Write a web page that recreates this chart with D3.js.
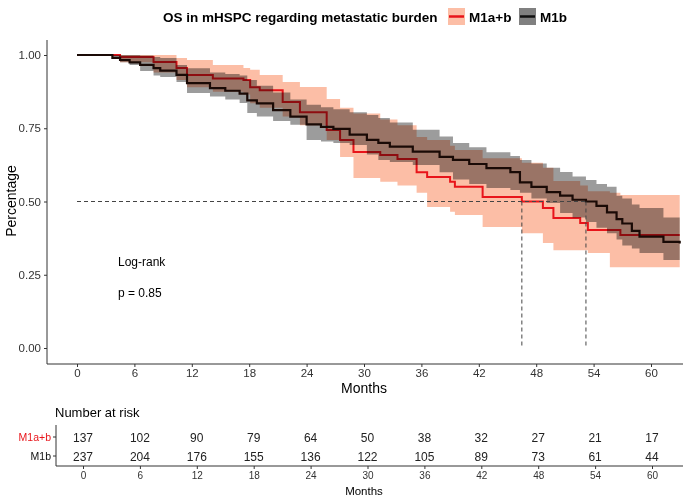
<!DOCTYPE html>
<html>
<head>
<meta charset="utf-8">
<script src="https://cdn.jsdelivr.net/npm/d3@7"></script>
<style>
  body { margin: 0; background: #fff; }
  svg { font-family: "Liberation Sans", Arial, sans-serif; }
  .tick text { fill: #333; }
</style>
</head>
<body>
<div id="chart"></div>
<script>
// Kaplan-Meier estimates (months, survival, 95% CI)
const m1bTime  = [0, 3.7, 4.5, 5.5, 6.6, 8.0, 8.7, 10.4, 11.5, 13.9, 15.5, 17.0, 17.8, 18.8, 20.5, 22.3, 24.0, 25.5, 26.8, 28.5, 30.3, 31.5, 32.7, 35.1, 37.9, 39.3, 41.0, 42.8, 45.3, 46.3, 47.5, 49.1, 50.5, 51.8, 53.2, 54.3, 55.4, 56.4, 57.0, 58.0, 58.8, 61.3, 63.0];
const m1bSurv  = [1, 0.99, 0.983, 0.975, 0.966, 0.955, 0.947, 0.932, 0.904, 0.887, 0.878, 0.868, 0.845, 0.835, 0.812, 0.79, 0.763, 0.755, 0.748, 0.728, 0.71, 0.70, 0.687, 0.67, 0.652, 0.642, 0.628, 0.614, 0.60, 0.565, 0.55, 0.532, 0.52, 0.506, 0.50, 0.485, 0.463, 0.44, 0.425, 0.40, 0.38, 0.362, 0.357];
const m1bUpper = [1, 1, 1, 1, 0.998, 0.993, 0.99, 0.966, 0.955, 0.94, 0.935, 0.93, 0.915, 0.895, 0.872, 0.848, 0.83, 0.822, 0.815, 0.805, 0.795, 0.785, 0.77, 0.745, 0.722, 0.70, 0.685, 0.668, 0.655, 0.642, 0.63, 0.615, 0.601, 0.585, 0.573, 0.56, 0.55, 0.52, 0.51, 0.49, 0.478, 0.445, 0.444];
const m1bLower = [1, 0.99, 0.975, 0.966, 0.945, 0.93, 0.925, 0.908, 0.87, 0.858, 0.848, 0.836, 0.802, 0.79, 0.775, 0.762, 0.71, 0.705, 0.70, 0.693, 0.66, 0.642, 0.635, 0.625, 0.60, 0.575, 0.56, 0.546, 0.539, 0.53, 0.51, 0.495, 0.461, 0.445, 0.43, 0.41, 0.392, 0.37, 0.35, 0.34, 0.324, 0.30, 0.29];

const m1abTime  = [0, 4.5, 8.0, 10.4, 11.5, 14.2, 17.4, 18.1, 19.1, 21.5, 23.3, 26.1, 27.5, 28.9, 31.7, 33.5, 35.5, 36.6, 39.0, 39.5, 42.4, 46.5, 48.7, 49.8, 52.6, 53.4, 55.7, 56.8, 63.0];
const m1abSurv  = [1, 0.993, 0.976, 0.956, 0.932, 0.92, 0.915, 0.89, 0.88, 0.84, 0.805, 0.744, 0.71, 0.669, 0.659, 0.645, 0.60, 0.584, 0.567, 0.55, 0.515, 0.50, 0.478, 0.444, 0.427, 0.403, 0.403, 0.386, 0.386];
const m1abUpper = [1, 1, 1, 0.99, 0.983, 0.966, 0.956, 0.95, 0.932, 0.908, 0.891, 0.85, 0.82, 0.80, 0.78, 0.76, 0.72, 0.71, 0.69, 0.676, 0.648, 0.632, 0.615, 0.57, 0.555, 0.535, 0.53, 0.522, 0.522];
const m1abLower = [1, 0.975, 0.94, 0.915, 0.89, 0.875, 0.865, 0.835, 0.82, 0.79, 0.76, 0.71, 0.652, 0.58, 0.567, 0.555, 0.53, 0.481, 0.465, 0.454, 0.413, 0.392, 0.358, 0.334, 0.334, 0.324, 0.276, 0.276, 0.276];

const medianM1ab = 46.5;
const medianM1b = 53.2;

// number at risk table
const riskTimes = [0, 6, 12, 18, 24, 30, 36, 42, 48, 54, 60];
const riskM1ab = [137, 102, 90, 79, 64, 50, 38, 32, 27, 21, 17];
const riskM1b  = [237, 204, 176, 155, 136, 122, 105, 89, 73, 61, 44];
const yTicks = [0, 0.25, 0.5, 0.75, 1];

const width = 685, height = 500;
const svg = d3.select("#chart").append("svg")
  .attr("width", width).attr("height", height);

const x = d3.scaleLinear().domain([0, 60]).range([77, 651]);
const y = d3.scaleLinear().domain([0, 1]).range([348, 55]);
const plotLeft = 47, plotRight = 683, plotBottom = 364, plotTop = 40;

function rows(time, surv, up, lo) {
  return time.map((t, i) => ({ t: t, s: surv[i], u: up[i], l: lo[i] }));
}
const m1ab = rows(m1abTime, m1abSurv, m1abUpper, m1abLower);
const m1b = rows(m1bTime, m1bSurv, m1bUpper, m1bLower);

const band = d3.area().curve(d3.curveStepAfter)
  .x(d => x(d.t)).y0(d => y(d.l)).y1(d => y(d.u));
const line = d3.line().curve(d3.curveStepAfter)
  .x(d => x(d.t)).y(d => y(d.s));

const salmon = "rgb(252,190,166)";
const grey = "rgb(156,156,156)";

const plot = svg.append("g");
plot.append("path").attr("d", band(m1ab)).attr("fill", salmon);
plot.append("path").attr("d", line(m1ab)).attr("fill", "none")
  .attr("stroke", "#e8141a").attr("stroke-width", 2);
plot.append("path").attr("d", band(m1b)).attr("fill", grey)
  .style("mix-blend-mode", "multiply");
plot.append("path").attr("d", line(m1b)).attr("fill", "none")
  .attr("stroke", "#1a0a06").attr("stroke-width", 2.2);

// median lines
const dash = plot.append("g").attr("stroke", "#444").attr("stroke-width", 1)
  .attr("stroke-dasharray", "4,3").attr("fill", "none");
dash.append("line").attr("x1", x(0)).attr("x2", x(medianM1b))
  .attr("y1", y(0.5)).attr("y2", y(0.5));
[medianM1ab, medianM1b].forEach(m => {
  dash.append("line").attr("x1", x(m)).attr("x2", x(m))
    .attr("y1", y(0.5)).attr("y2", y(0));
});

// axes
const xAxis = svg.append("g").attr("transform", `translate(0,${plotBottom})`)
  .call(d3.axisBottom(x).tickValues(riskTimes).tickSize(3).tickPadding(2));
xAxis.select(".domain").attr("d", `M${plotLeft},0H${plotRight}`).attr("stroke", "#333");
xAxis.selectAll(".tick line").attr("stroke", "#333");
xAxis.selectAll("text").style("font-size", "11.5px");

const yAxis = svg.append("g").attr("transform", `translate(${plotLeft},0)`)
  .call(d3.axisLeft(y).tickValues(yTicks).tickFormat(d3.format(".2f")).tickSize(3).tickPadding(3));
yAxis.select(".domain").attr("d", `M0,${plotTop}V${plotBottom}`).attr("stroke", "#333");
yAxis.selectAll(".tick line").attr("stroke", "#333");
yAxis.selectAll("text").style("font-size", "11.5px");

svg.append("text").attr("x", 364).attr("y", 393).attr("text-anchor", "middle")
  .style("font-size", "14px").text("Months");
svg.append("text").attr("transform", "rotate(-90)")
  .attr("x", -201).attr("y", 16).attr("text-anchor", "middle")
  .style("font-size", "14px").text("Percentage");

svg.append("text").attr("x", 118).attr("y", 266).style("font-size", "12px").text("Log-rank");
svg.append("text").attr("x", 118).attr("y", 297).style("font-size", "12px").text("p = 0.85");

// title + legend
svg.append("text").attr("x", 163).attr("y", 22)
  .style("font-size", "13.5px").style("font-weight", "bold")
  .text("OS in mHSPC regarding metastatic burden");
const legendItems = [
  { label: "M1a+b", fill: salmon, stroke: "#e8141a", x: 448 },
  { label: "M1b", fill: "rgb(128,128,128)", stroke: "#111", x: 519 }
];
legendItems.forEach(d => {
  const g = svg.append("g").attr("transform", `translate(${d.x},8)`);
  g.append("rect").attr("width", 17).attr("height", 17).attr("fill", d.fill);
  g.append("line").attr("x1", 1).attr("x2", 16).attr("y1", 8.5).attr("y2", 8.5)
    .attr("stroke", d.stroke).attr("stroke-width", 2.5);
  g.append("text").attr("x", 21).attr("y", 14).style("font-size", "13.5px")
    .style("font-weight", "bold").text(d.label);
});

// risk table
const xr = d3.scaleLinear().domain([0, 60]).range([83, 652]);
const tableLeft = 56, tableBottom = 466;
svg.append("text").attr("x", 55).attr("y", 417).style("font-size", "13px").text("Number at risk");

const riskRows = [
  { label: "M1a+b", values: riskM1ab, color: "#e8141a", y: 437 },
  { label: "M1b", values: riskM1b, color: "#111", y: 456 }
];
const table = svg.append("g");
table.append("path").attr("d", `M${tableLeft},425V${tableBottom}H${plotRight}`)
  .attr("fill", "none").attr("stroke", "#333");
riskRows.forEach(r => {
  table.append("line").attr("x1", tableLeft - 3).attr("x2", tableLeft)
    .attr("y1", r.y).attr("y2", r.y).attr("stroke", "#333");
  table.append("text").attr("x", tableLeft - 5).attr("y", r.y + 4)
    .attr("text-anchor", "end").style("font-size", "10.5px").attr("fill", r.color)
    .text(r.label);
  table.selectAll(null).data(r.values).enter().append("text")
    .attr("x", (d, i) => xr(riskTimes[i])).attr("y", r.y + 4.5)
    .attr("text-anchor", "middle").style("font-size", "12px").attr("fill", "#222")
    .text(d => d);
});
const xrAxis = svg.append("g").attr("transform", `translate(0,${tableBottom})`)
  .call(d3.axisBottom(xr).tickValues(riskTimes).tickSize(3).tickPadding(3));
xrAxis.select(".domain").remove();
xrAxis.selectAll(".tick line").attr("stroke", "#333");
xrAxis.selectAll("text").style("font-size", "10px");
svg.append("text").attr("x", 364).attr("y", 495).attr("text-anchor", "middle")
  .style("font-size", "11.5px").text("Months");
</script>
</body>
</html>
